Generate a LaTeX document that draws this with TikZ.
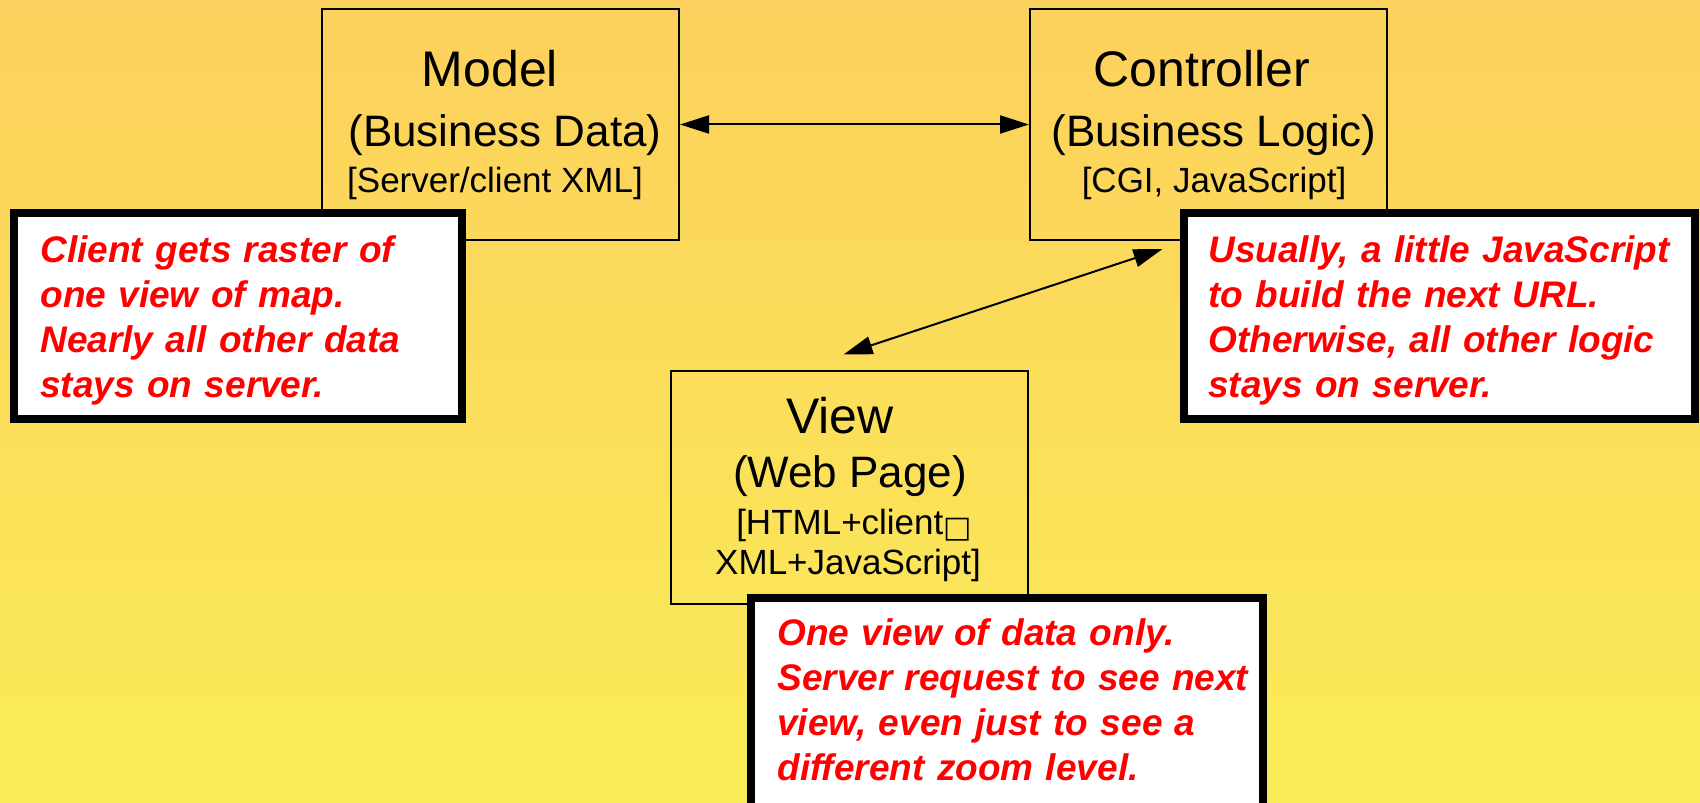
\documentclass[tikz,border=0pt]{standalone}
\usepackage{fontspec}
\setmainfont{Liberation Sans}
\newfontfamily\symfont{DejaVu Sans}
\usetikzlibrary{arrows.meta,calc}

\definecolor{bgtop}{RGB}{252,208,92}
\definecolor{bgbottom}{RGB}{250,236,88}
\definecolor{notered}{RGB}{255,0,0}

\tikzset{
	mvcbox/.style={draw=black, line width=1pt, minimum width=178.5pt,
		minimum height=115.5pt, inner sep=0pt},
	notebox/.style={draw=black, fill=white, line width=4pt, inner sep=0pt},
	titlefont/.style={anchor=base, inner sep=0pt,
		font=\fontsize{25}{30}\selectfont},
	subfont/.style={anchor=base, inner sep=0pt,
		font=\fontsize{22}{26}\selectfont},
	techfont/.style={anchor=base, inner sep=0pt,
		font=\fontsize{17.5}{21}\selectfont},
	notetext/.style={anchor=base west, inner sep=0pt, align=left,
		text width=250pt, text=notered,
		font=\fontsize{18.5}{22.5}\selectfont\bfseries\itshape},
	link/.style={line width=1pt, {Triangle[length=14.5pt,width=9pt]}-{Triangle[length=14.5pt,width=9pt]}}
}

\begin{document}
\begin{tikzpicture}[x=0.5pt, y=-0.5pt]
	% Hintergrund
	\useasboundingbox (0,0) rectangle (1700,802);
	\shade[top color=bgtop, bottom color=bgbottom] (0,0) rectangle (1700,802);
	\clip (0,0) rectangle (1700,802);

	% Kaesten
	\node[mvcbox] (model) at (500.5,124.5) {};
	\node[mvcbox] (ctrl) at (1208.5,124.5) {};
	\node[mvcbox, minimum height=116.5pt] (view) at (849.5,487) {};

	% Beschriftungen
	\node[titlefont] (modeltitle) at (490,87) {Model};
	\node[subfont] (modelsub) at (505,147) {(Business Data)};
	\node[techfont] (modeltech) at (495,192) {[Server/client XML]};
	\node[titlefont] (ctrltitle) at (1202,87) {Controller};
	\node[subfont] (ctrlsub) at (1214,147) {(Business Logic)};
	\node[techfont] (ctrltech) at (1214,192) {[CGI, JavaScript]};
	\node[titlefont] (viewtitle) at (840,433) {View};
	\node[subfont] (viewsub) at (850,487) {(Web Page)};
	\node[techfont] (viewtech) at (854,534)
		{[HTML+client\raisebox{-1.5pt}{\symfont\fontsize{15}{15}\selectfont □}};
	\node[techfont] (viewtechb) at (848,574) {XML+JavaScript]};

	% Verbindungen
	\draw[link] (model) -- (ctrl);
	\draw[link] ($(ctrl.south)+(-46,8)$) -- ($(view.north)+(-6,-15)$);

	% Hinweise
	\draw[notebox] (14,213) rectangle (462,419);
	\node[notetext] (notemodel) at (40,262)
		{Client gets raster of\\one view of map.\\Nearly all other data\\stays on server.};
	\draw[notebox] (1183.5,213) rectangle (1695,419);
	\node[notetext] (notectrl) at (1208,262)
		{Usually, a little JavaScript\\to build the next URL.\\Otherwise, all other logic\\stays on server.};
	\draw[notebox] (750.5,597.5) rectangle (1263,830);
	\node[notetext] (noteview) at (777,645)
		{One view of data only.\\Server request to see next\\view, even just to see a\\different zoom level.};
\end{tikzpicture}
\end{document}
